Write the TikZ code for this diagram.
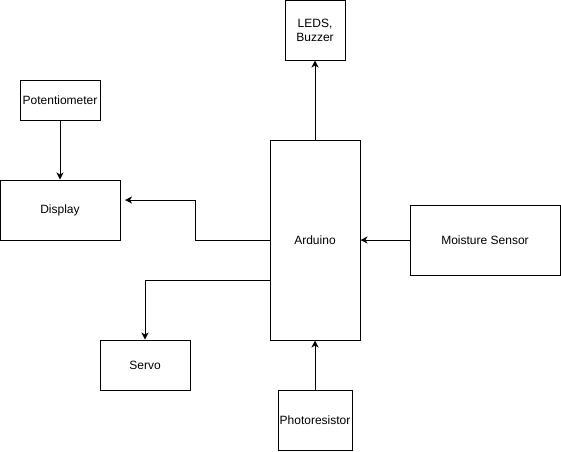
\documentclass[tikz,border=0pt]{standalone}
\usepackage{fontspec}
\setmainfont{Liberation Sans}
\usetikzlibrary{arrows.meta}
\begin{document}
\begin{tikzpicture}[x=1pt,y=-1pt,
  box/.style={draw=black, line width=1pt, fill=white, inner sep=0pt, align=center, font=\fontsize{12}{14}\selectfont},
  arr/.style={draw=black, line width=1pt, -{Stealth[length=7pt,width=7pt,inset=2pt]}}]
\useasboundingbox (0,0) rectangle (561,451);
\node[box, minimum width=60pt, minimum height=60pt] (led) at (315,30) {LEDS,\\Buzzer};
\node[box, minimum width=80pt, minimum height=40pt] (pot) at (60,100) {Potentiometer};
\node[box, minimum width=120pt, minimum height=60pt] (disp) at (60,210) {Display};
\node[box, minimum width=90pt, minimum height=200pt] (ard) at (315,240) {Arduino};
\node[box, minimum width=150pt, minimum height=70pt] (moist) at (485,240) {Moisture Sensor};
\node[box, minimum width=90pt, minimum height=50pt] (servo) at (145,365) {Servo};
\node[box, minimum width=74pt, minimum height=60pt] (photo) at (315,420) {Photoresistor};
\coordinate (bend) at (195,200);
\coordinate (dispin) at (125,200);
\coordinate (sout) at (270,280);
\draw[arr] (ard.north) -- (led.south);
\draw[arr] (pot.south) -- (disp.north);
\draw[arr] (ard.west) -| (bend) -- (dispin);
\draw[arr] (sout) -| (servo.north);
\draw[arr] (moist.west) -- (ard.east);
\draw[arr] (photo.north) -- (ard.south);
\end{tikzpicture}
\end{document}
